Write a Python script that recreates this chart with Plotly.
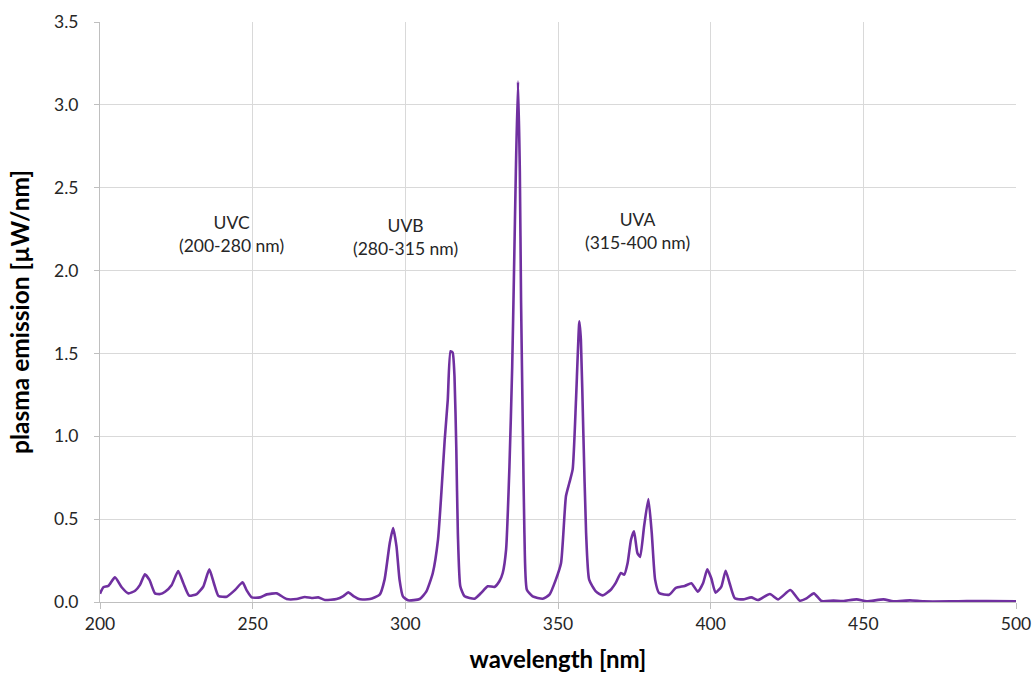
import plotly.graph_objects as go

wavelength = [200.0, 201.1, 202.7, 204.9, 207.1, 209.3, 211.5, 213.1, 214.7, 216.2, 218.0, 219.7,
              221.3, 223.5, 225.6, 227.3, 229.2, 231.7, 233.8, 235.8, 237.3, 238.8, 241.5, 244.2,
              246.7, 248.0, 249.7, 252.4, 254.6, 257.9, 258.9, 261.1, 264.4, 267.1, 269.3, 271.5,
              273.7, 277.5, 279.7, 281.3, 283.0, 285.2, 288.4, 291.6, 293.2, 294.9, 296.0, 297.1,
              298.1, 299.2, 300.9, 304.7, 306.9, 309.0, 310.7, 311.8, 312.9, 313.9, 314.8, 315.5,
              316.1, 316.7, 317.2, 318.0, 319.4, 322.7, 324.8, 327.0, 329.2, 330.8, 331.9, 333.0,
              334.1, 335.0, 335.6, 336.2, 336.9, 337.5, 337.9, 338.5, 339.0, 339.8, 341.7, 345.0,
              347.2, 349.3, 351.0, 352.6, 353.7, 354.8, 355.9, 357.0, 357.5, 358.3, 359.2, 360.2,
              362.4, 364.6, 367.3, 368.9, 370.6, 371.7, 372.8, 373.9, 374.9, 376.0, 376.9, 378.2,
              379.6, 380.7, 381.8, 383.1, 386.4, 388.6, 391.5, 393.7, 395.8, 397.5, 398.9, 400.2,
              401.6, 403.5, 404.9, 406.2, 407.9, 410.6, 413.3, 415.5, 419.4, 422.1, 426.1, 429.2,
              431.4, 433.8, 436.3, 440.2, 443.4, 447.8, 451.1, 456.6, 459.8, 465.3, 469.7, 478.4,
              483.9, 490.5, 500.0]
emission = [0.05, 0.089, 0.097, 0.149, 0.089, 0.052, 0.068, 0.103, 0.167, 0.133, 0.052, 0.048,
            0.062, 0.103, 0.187, 0.113, 0.038, 0.048, 0.092, 0.197, 0.113, 0.036, 0.032, 0.072,
            0.119, 0.072, 0.028, 0.028, 0.046, 0.052, 0.042, 0.018, 0.018, 0.030, 0.024, 0.028,
            0.012, 0.018, 0.036, 0.058, 0.036, 0.016, 0.018, 0.044, 0.135, 0.356, 0.447, 0.336,
            0.135, 0.034, 0.010, 0.018, 0.064, 0.175, 0.376, 0.658, 0.98, 1.22, 1.513, 1.505,
            1.362, 0.92, 0.417, 0.095, 0.034, 0.020, 0.054, 0.095, 0.091, 0.125, 0.175, 0.316,
            0.819, 1.42, 2.0, 2.6, 3.14, 2.6, 1.82, 1.02, 0.417, 0.074, 0.034, 0.020,
            0.044, 0.135, 0.235, 0.638, 0.718, 0.80, 1.22, 1.694, 1.58, 1.02, 0.417, 0.135,
            0.064, 0.040, 0.074, 0.115, 0.175, 0.165, 0.235, 0.376, 0.427, 0.296, 0.272, 0.457,
            0.622, 0.417, 0.135, 0.054, 0.044, 0.085, 0.097, 0.113, 0.062, 0.113, 0.197, 0.143,
            0.056, 0.093, 0.189, 0.113, 0.022, 0.016, 0.028, 0.012, 0.048, 0.016, 0.072, 0.008,
            0.022, 0.052, 0.006, 0.008, 0.006, 0.016, 0.004, 0.016, 0.004, 0.010, 0.004, 0.004,
            0.006, 0.006, 0.004]

band_labels = ["UVC<br>(200-280 nm)", "UVB<br>(280-315 nm)", "UVA<br>(315-400 nm)"]
band_x = [243.2, 300.2, 375.9]
band_y = [2.22, 2.20, 2.24]

FONT = "Lato, 'Open Sans', sans-serif"

fig = go.Figure()
fig.add_trace(go.Scatter(
    x=wavelength, y=emission, mode="lines",
    line=dict(color="#7030A0", width=2.6, shape="spline", smoothing=0.5),
    hoverinfo="x+y", showlegend=False,
))

for t, xx, yy in zip(band_labels, band_x, band_y):
    fig.add_annotation(x=xx, y=yy, text=t, showarrow=False,
                       font=dict(family=FONT, size=17.5, color="#262626"),
                       align="center", xref="x", yref="y")

fig.update_layout(
    width=1034, height=673,
    margin=dict(l=100, r=18, t=22, b=71),
    paper_bgcolor="white", plot_bgcolor="white",
    font=dict(family=FONT, color="#262626"),
)
fig.update_xaxes(
    range=[200, 500], dtick=50, tick0=200, automargin=False,
    showgrid=True, gridcolor="#d9d9d9", gridwidth=1,
    showline=True, linecolor="#bfbfbf", linewidth=1,
    ticks="outside", ticklen=6, tickcolor="#bfbfbf",
    ticklabeloverflow="allow",
    tickfont=dict(family=FONT, size=17.5, color="#262626"),
    title=dict(text="<b>wavelength [nm]</b>", font=dict(family=FONT, size=24, color="#000000"), standoff=31),
    zeroline=False,
)
fig.update_yaxes(
    range=[0, 3.5], dtick=0.5, tick0=0, tickformat=".1f", automargin=False,
    showgrid=True, gridcolor="#d9d9d9", gridwidth=1,
    showline=True, linecolor="#bfbfbf", linewidth=1,
    ticks="outside", ticklen=5, tickcolor="#bfbfbf",
    ticklabelstandoff=12,
    tickfont=dict(family=FONT, size=17.5, color="#262626"),
    title=dict(text="<b>plasma emission [µW/nm]</b>", font=dict(family=FONT, size=24.5, color="#000000"), standoff=17),
    zeroline=False,
)

fig.write_html(
    "out.html",
    config={"displayModeBar": False},
    post_script="document.body.style.margin='0';document.body.style.overflow='hidden';",
)
